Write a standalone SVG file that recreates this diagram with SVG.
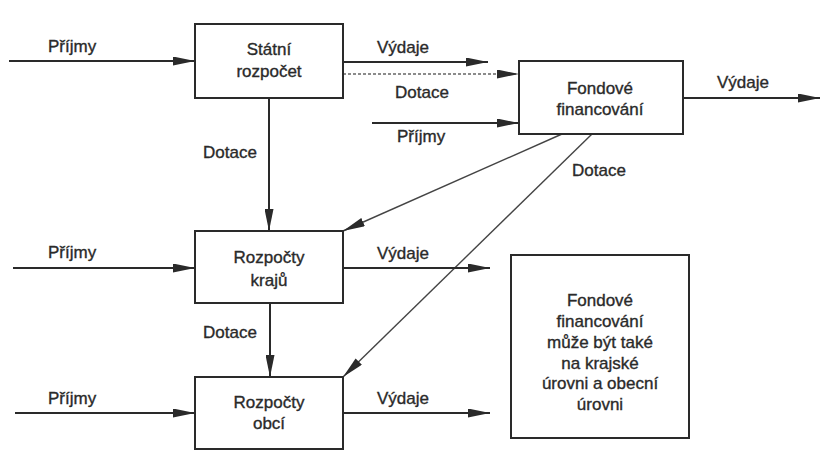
<svg xmlns="http://www.w3.org/2000/svg" width="821" height="458" viewBox="0 0 821 458">
<defs>
<style>
.box{fill:#fff;stroke:#2a2a2a;stroke-width:2}
.t{font-family:"Liberation Sans",Arial,sans-serif;font-size:17px;fill:#2a2a2a;stroke:#2a2a2a;stroke-width:0.35}
.c{text-anchor:middle}
.ln{stroke:#2a2a2a;stroke-width:2;fill:none;marker-end:url(#ah)}
.dg{stroke:#444;stroke-width:1.4;fill:none;marker-end:url(#ah)}
.dt{stroke:#666;stroke-width:1.6;stroke-dasharray:3 2;fill:none;marker-end:url(#ah)}
</style>
<marker id="ah" markerUnits="userSpaceOnUse" markerWidth="22" markerHeight="9" refX="22" refY="4.5" orient="auto">
<path d="M0,0 L22,4.5 L0,9 z" fill="#2a2a2a"/>
</marker>
</defs>
<rect width="821" height="458" fill="#fff"/>
<g id="connectors">
<line class="ln" x1="9" y1="61" x2="195" y2="61"/>
<line class="ln" x1="343" y1="62" x2="488" y2="62"/>
<line class="dt" x1="343" y1="74" x2="519" y2="74"/>
<line class="ln" x1="372" y1="123" x2="519" y2="123"/>
<line class="ln" x1="683" y1="98" x2="820" y2="98"/>
<line class="ln" x1="269" y1="98" x2="269" y2="231"/>
<line class="dg" x1="562" y1="134" x2="343" y2="231"/>
<line class="dg" x1="592" y1="134" x2="343" y2="377"/>
<line class="ln" x1="13" y1="268" x2="195" y2="268"/>
<line class="ln" x1="343" y1="268" x2="490" y2="268"/>
<line class="ln" x1="270" y1="303" x2="270" y2="377"/>
<line class="ln" x1="15" y1="413" x2="195" y2="413"/>
<line class="ln" x1="343" y1="413" x2="490" y2="413"/>
<text class="t" x="48" y="52">Příjmy</text>
<text class="t" x="377" y="53">Výdaje</text>
<text class="t" x="395" y="98">Dotace</text>
<text class="t" x="397" y="142">Příjmy</text>
<text class="t" x="717" y="88">Výdaje</text>
<text class="t" x="203" y="158">Dotace</text>
<text class="t" x="572" y="176">Dotace</text>
<text class="t" x="48" y="258">Příjmy</text>
<text class="t" x="377" y="259">Výdaje</text>
<text class="t" x="203" y="338">Dotace</text>
<text class="t" x="48" y="404">Příjmy</text>
<text class="t" x="377" y="404">Výdaje</text>
</g>
<g id="statni">
<rect class="box" x="195" y="24" width="148" height="74"/>
<text class="t c" x="269" y="55">Státní</text>
<text class="t c" x="269" y="77">rozpočet</text>
</g>
<g id="fondove">
<rect class="box" x="519" y="61" width="164" height="73"/>
<text class="t c" x="600" y="94">Fondové</text>
<text class="t c" x="600" y="115">financování</text>
</g>
<g id="kraju">
<rect class="box" x="195" y="231" width="148" height="72"/>
<text class="t c" x="269" y="263">Rozpočty</text>
<text class="t c" x="269" y="286">krajů</text>
</g>
<g id="obci">
<rect class="box" x="195" y="377" width="148" height="72"/>
<text class="t c" x="269" y="408">Rozpočty</text>
<text class="t c" x="269" y="429">obcí</text>
</g>
<g id="note">
<rect class="box" x="511" y="255" width="178" height="183"/>
<text class="t c" x="600" y="306">Fondové</text>
<text class="t c" x="600" y="327">financování</text>
<text class="t c" x="600" y="348">může být také</text>
<text class="t c" x="600" y="369">na krajské</text>
<text class="t c" x="600" y="389">úrovni a obecní</text>
<text class="t c" x="600" y="410">úrovni</text>
</g>
</svg>
